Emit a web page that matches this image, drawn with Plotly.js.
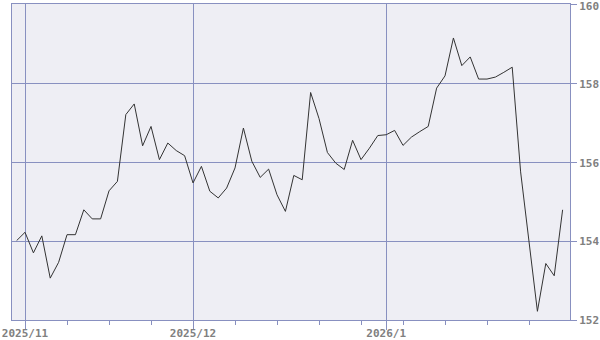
<!DOCTYPE html>
<html>
<head>
<meta charset="utf-8">
<script src="https://cdn.plot.ly/plotly-3.0.1.min.js"></script>
<style>html,body{margin:0;padding:0;background:#fff;}#chart{width:600px;height:340px;}</style>
</head>
<body>
<div id="chart"></div>
<script>
// Trading days (x categories)
const dates = [
  '2025-10-31',
  '2025-11-03','2025-11-04','2025-11-05','2025-11-06','2025-11-07',
  '2025-11-10','2025-11-11','2025-11-12','2025-11-13','2025-11-14',
  '2025-11-17','2025-11-18','2025-11-19','2025-11-20','2025-11-21',
  '2025-11-24','2025-11-25','2025-11-26','2025-11-27','2025-11-28',
  '2025-12-01','2025-12-02','2025-12-03','2025-12-04','2025-12-05',
  '2025-12-08','2025-12-09','2025-12-10','2025-12-11','2025-12-12',
  '2025-12-15','2025-12-16','2025-12-17','2025-12-18','2025-12-19',
  '2025-12-22','2025-12-23','2025-12-24','2025-12-25','2025-12-26',
  '2025-12-29','2025-12-30','2025-12-31',
  '2026-01-01','2026-01-02',
  '2026-01-05','2026-01-06','2026-01-07','2026-01-08','2026-01-09',
  '2026-01-12','2026-01-13','2026-01-14','2026-01-15','2026-01-16',
  '2026-01-19','2026-01-20','2026-01-21','2026-01-22','2026-01-23',
  '2026-01-26','2026-01-27','2026-01-28','2026-01-29','2026-01-30'
];
// Closing values
const values = [
  154.01,
  154.22, 153.70, 154.13, 153.06, 153.46,
  154.16, 154.16, 154.79, 154.56, 154.56,
  155.27, 155.51, 157.20, 157.47, 156.41,
  156.90, 156.06, 156.48, 156.29, 156.16,
  155.47, 155.89, 155.26, 155.09, 155.34,
  155.85, 156.86, 156.02, 155.61, 155.82,
  155.17, 154.75, 155.66, 155.55, 157.76,
  157.10, 156.24, 155.97, 155.81, 156.55,
  156.06, 156.35, 156.67,
  156.69, 156.80,
  156.42, 156.63, 156.77, 156.90, 157.87,
  158.18, 159.14, 158.44, 158.66, 158.10,
  158.10, 158.15, 158.27, 158.40, 155.75,
  153.95, 152.22, 153.43, 153.12, 154.79
];
// Month label positions (first trading day) and texts
const monthStarts = ['2025-11-03', '2025-12-01', '2026-01-01'];
const monthLabels = ['2025/11', '2025/12', '2026/1'];
// Y ticks
const yTicks = [152, 154, 156, 158, 160];

const xIdx = dates.map((d, i) => i);
const tickIdx = monthStarts.map(d => dates.indexOf(d));

const gridC = '#8890c0';
const labelFont = {family: 'DejaVu Sans Mono', size: 11, color: '#808080', weight: 'bold'};
const xRange = [-0.55, 65.88];
const yRange = [152, 160];
const yLabelStretch = 0.05; // top labels sit slightly below their gridlines

Plotly.newPlot('chart', [{
  x: xIdx,
  y: values,
  type: 'scatter',
  mode: 'lines',
  line: {color: '#333333', width: 1},
  hoverinfo: 'skip'
}, {
  x: [xIdx[0]],
  y: [values[0]],
  xaxis: 'x2',
  yaxis: 'y2',
  type: 'scatter',
  mode: 'none',
  hoverinfo: 'skip',
  showlegend: false
}], {
  width: 600,
  height: 340,
  margin: {l: 12, r: 30, t: 4, b: 20, pad: 0},
  paper_bgcolor: '#ffffff',
  plot_bgcolor: '#eeeef4',
  showlegend: false,
  xaxis: {
    range: xRange,
    tickmode: 'array',
    tickvals: tickIdx,
    ticktext: monthLabels,
    showticklabels: false,
    ticks: 'outside',
    ticklen: 9,
    tickcolor: gridC,
    tickwidth: 1,
    showgrid: true,
    gridcolor: gridC,
    gridwidth: 1,
    zeroline: false,
    showline: true,
    linecolor: gridC,
    linewidth: 1,
    mirror: true,
    minor: {tickmode: 'linear', tick0: 1, dtick: 5, ticks: 'outside', ticklen: 4, tickcolor: gridC, showgrid: false}
  },
  xaxis2: {
    overlaying: 'x',
    anchor: 'y',
    side: 'bottom',
    range: xRange,
    tickmode: 'array',
    tickvals: tickIdx,
    ticktext: monthLabels,
    ticks: 'outside',
    ticklen: 3,
    tickcolor: 'rgba(0,0,0,0)',
    showgrid: false,
    zeroline: false,
    showline: false,
    tickfont: labelFont,
    ticklabeloverflow: 'allow'
  },
  yaxis: {
    range: yRange,
    side: 'right',
    tickmode: 'array',
    tickvals: yTicks,
    showticklabels: false,
    ticks: 'outside',
    ticklen: 6,
    tickcolor: gridC,
    showgrid: true,
    gridcolor: gridC,
    gridwidth: 1,
    zeroline: false,
    showline: true,
    linecolor: gridC,
    linewidth: 1,
    mirror: true
  },
  yaxis2: {
    overlaying: 'y',
    anchor: 'x',
    side: 'right',
    range: [yRange[0], yRange[1] + yLabelStretch],
    tickmode: 'array',
    tickvals: yTicks,
    ticks: 'outside',
    ticklen: 6,
    tickcolor: 'rgba(0,0,0,0)',
    showgrid: false,
    zeroline: false,
    showline: false,
    tickfont: labelFont,
    ticklabeloverflow: 'allow'
  }
}, {staticPlot: true, displayModeBar: false});
</script>
</body>
</html>
